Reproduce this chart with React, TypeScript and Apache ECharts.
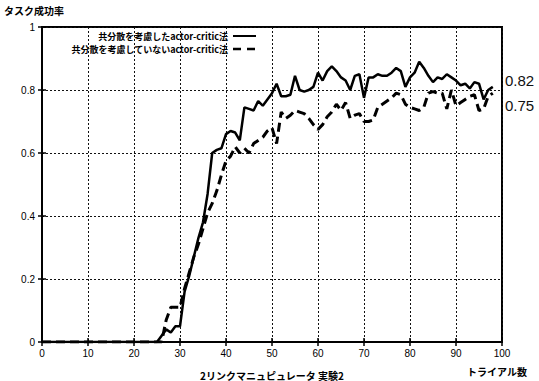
import React, { useEffect, useRef } from "react";
import * as echarts from "echarts";

// trial numbers 0..98
const trials: number[] = Array.from({ length: 99 }, (_, i) => i);

// 共分散を考慮したactor-critic法 (solid)
const withCov: number[] = [
  0, 0, 0, 0, 0, 0, 0, 0, 0, 0,
  0, 0, 0, 0, 0, 0, 0, 0, 0, 0,
  0, 0, 0, 0, 0, 0, 0.02, 0.04, 0.03, 0.05,
  0.05, 0.16, 0.21, 0.27, 0.33, 0.38, 0.47, 0.6, 0.61, 0.615,
  0.66, 0.67, 0.665, 0.64, 0.745, 0.74, 0.735, 0.765, 0.75, 0.77,
  0.79, 0.82, 0.78, 0.78, 0.785, 0.845, 0.8, 0.795, 0.8, 0.81,
  0.855, 0.83, 0.86, 0.875, 0.86, 0.84, 0.83, 0.8, 0.845, 0.85,
  0.775, 0.84, 0.84, 0.85, 0.845, 0.845, 0.855, 0.87, 0.86, 0.81,
  0.84, 0.855, 0.89, 0.87, 0.845, 0.825, 0.84, 0.835, 0.85, 0.84,
  0.83, 0.815, 0.82, 0.805, 0.825, 0.82, 0.77, 0.8, 0.81,
];

// 共分散を考慮していないactor-critic法 (dashed)
const withoutCov: number[] = [
  0, 0, 0, 0, 0, 0, 0, 0, 0, 0,
  0, 0, 0, 0, 0, 0, 0, 0, 0, 0,
  0, 0, 0, 0, 0, 0, 0, 0.07, 0.11, 0.11,
  0.11, 0.17, 0.22, 0.27, 0.31, 0.36, 0.41, 0.44, 0.48, 0.53,
  0.575, 0.59, 0.62, 0.6, 0.615, 0.6, 0.63, 0.64, 0.65, 0.67,
  0.68, 0.63, 0.73, 0.71, 0.72, 0.735, 0.73, 0.725, 0.71, 0.69,
  0.675, 0.69, 0.715, 0.73, 0.755, 0.735, 0.76, 0.71, 0.72, 0.725,
  0.7, 0.7, 0.705, 0.745, 0.755, 0.765, 0.775, 0.79, 0.785, 0.755,
  0.745, 0.74, 0.735, 0.745, 0.79, 0.795, 0.79, 0.79, 0.74, 0.8,
  0.75, 0.76, 0.77, 0.78, 0.785, 0.735, 0.74, 0.78, 0.79,
];

const seriesNames = ["共分散を考慮したactor-critic法", "共分散を考慮していないactor-critic法"];
const finalLabels = ["0.82", "0.75"];

const CJK = "'Noto Sans CJK JP', 'Liberation Sans', sans-serif";
const NUM = "'Liberation Sans', Arial, sans-serif";

export default function App() {
  const ref = useRef<HTMLDivElement>(null);
  useEffect(() => {
    if (!ref.current) return;
    const chart = echarts.init(ref.current, null, { renderer: "svg" });
    const grid = { left: 42, right: 37, top: 27, bottom: 39 };
    const splitStyle = { color: "#111", type: [2, 2] as any, width: 1 };
    chart.setOption({
      animation: false,
      backgroundColor: "#fff",
      grid: { ...grid, show: true, borderColor: "#000", borderWidth: 2 },
      xAxis: [
        {
          type: "value",
          min: 0,
          max: 100,
          interval: 10,
          axisLine: { lineStyle: { color: "#000", width: 2 } },
          axisTick: { inside: true, length: 4, lineStyle: { color: "#000", width: 1.5 } },
          axisLabel: { color: "#000", fontSize: 10, margin: 6, fontFamily: NUM },
          splitLine: { show: true, lineStyle: splitStyle },
        },
        {
          type: "value",
          position: "top",
          min: 0,
          max: 100,
          interval: 10,
          axisLine: { show: false },
          axisTick: { inside: true, length: 4, lineStyle: { color: "#000", width: 1.5 } },
          axisLabel: { show: false },
          splitLine: { show: false },
        },
      ],
      yAxis: [
        {
          type: "value",
          min: 0,
          max: 1,
          interval: 0.2,
          axisLine: { show: true, lineStyle: { color: "#000", width: 2 } },
          axisTick: { show: true, inside: true, length: 4, lineStyle: { color: "#000", width: 1.5 } },
          axisLabel: { color: "#000", fontSize: 10, margin: 7, fontFamily: NUM },
          splitLine: { show: true, lineStyle: splitStyle },
        },
        {
          type: "value",
          position: "right",
          min: 0,
          max: 1,
          interval: 0.2,
          axisLine: { show: false },
          axisTick: { show: true, inside: true, length: 4, lineStyle: { color: "#000", width: 1.5 } },
          axisLabel: { show: false },
          splitLine: { show: false },
        },
      ],
      series: [
        {
          name: seriesNames[0],
          type: "line",
          symbol: "none",
          data: trials.map((t, i) => [t, withCov[i]]),
          lineStyle: { color: "#000", width: 2.5 },
          z: 3,
        },
        {
          name: seriesNames[1],
          type: "line",
          symbol: "none",
          data: trials.map((t, i) => [t, withoutCov[i]]),
          lineStyle: { color: "#000", width: 3, type: [9, 5] },
          z: 2,
        },
      ],
      graphic: [
        {
          type: "text",
          left: 4,
          top: 5,
          style: { text: "タスク成功率", font: `bold 10px ${CJK}`, fill: "#000" },
        },
        {
          type: "text",
          x: 228,
          y: 36,
          style: {
            text: seriesNames[0],
            font: `bold 9px ${CJK}`,
            lineHeight: 10,
            fill: "#000",
            align: "right",
            verticalAlign: "middle",
          },
        },
        {
          type: "text",
          x: 228,
          y: 49,
          style: {
            text: seriesNames[1],
            font: `bold 9px ${CJK}`,
            lineHeight: 10,
            fill: "#000",
            align: "right",
            verticalAlign: "middle",
          },
        },
        {
          type: "line",
          shape: { x1: 233, y1: 36, x2: 256, y2: 36 },
          style: { stroke: "#000", lineWidth: 2 },
        },
        {
          type: "line",
          shape: { x1: 233, y1: 49, x2: 258, y2: 49 },
          style: { stroke: "#000", lineWidth: 2.5, lineDash: [8, 6] },
        },
        {
          type: "text",
          x: 505,
          y: 80,
          style: { text: finalLabels[0], font: `15px ${NUM}`, fill: "#111", verticalAlign: "middle" },
        },
        {
          type: "text",
          x: 505,
          y: 105,
          style: { text: finalLabels[1], font: `15px ${NUM}`, fill: "#111", verticalAlign: "middle" },
        },
        {
          type: "text",
          x: 272,
          y: 375,
          style: {
            text: "2リンクマニュピュレータ 実験2",
            font: `bold 10px ${CJK}`,
            fill: "#000",
            align: "center",
            verticalAlign: "middle",
          },
        },
        {
          type: "text",
          x: 467,
          y: 371,
          style: { text: "トライアル数", font: `bold 10px ${CJK}`, fill: "#000", verticalAlign: "middle" },
        },
      ],
    });
    return () => chart.dispose();
  }, []);
  return <div ref={ref} style={{ width: 539, height: 381, position: "absolute", left: 0, top: 0 }} />;
}
